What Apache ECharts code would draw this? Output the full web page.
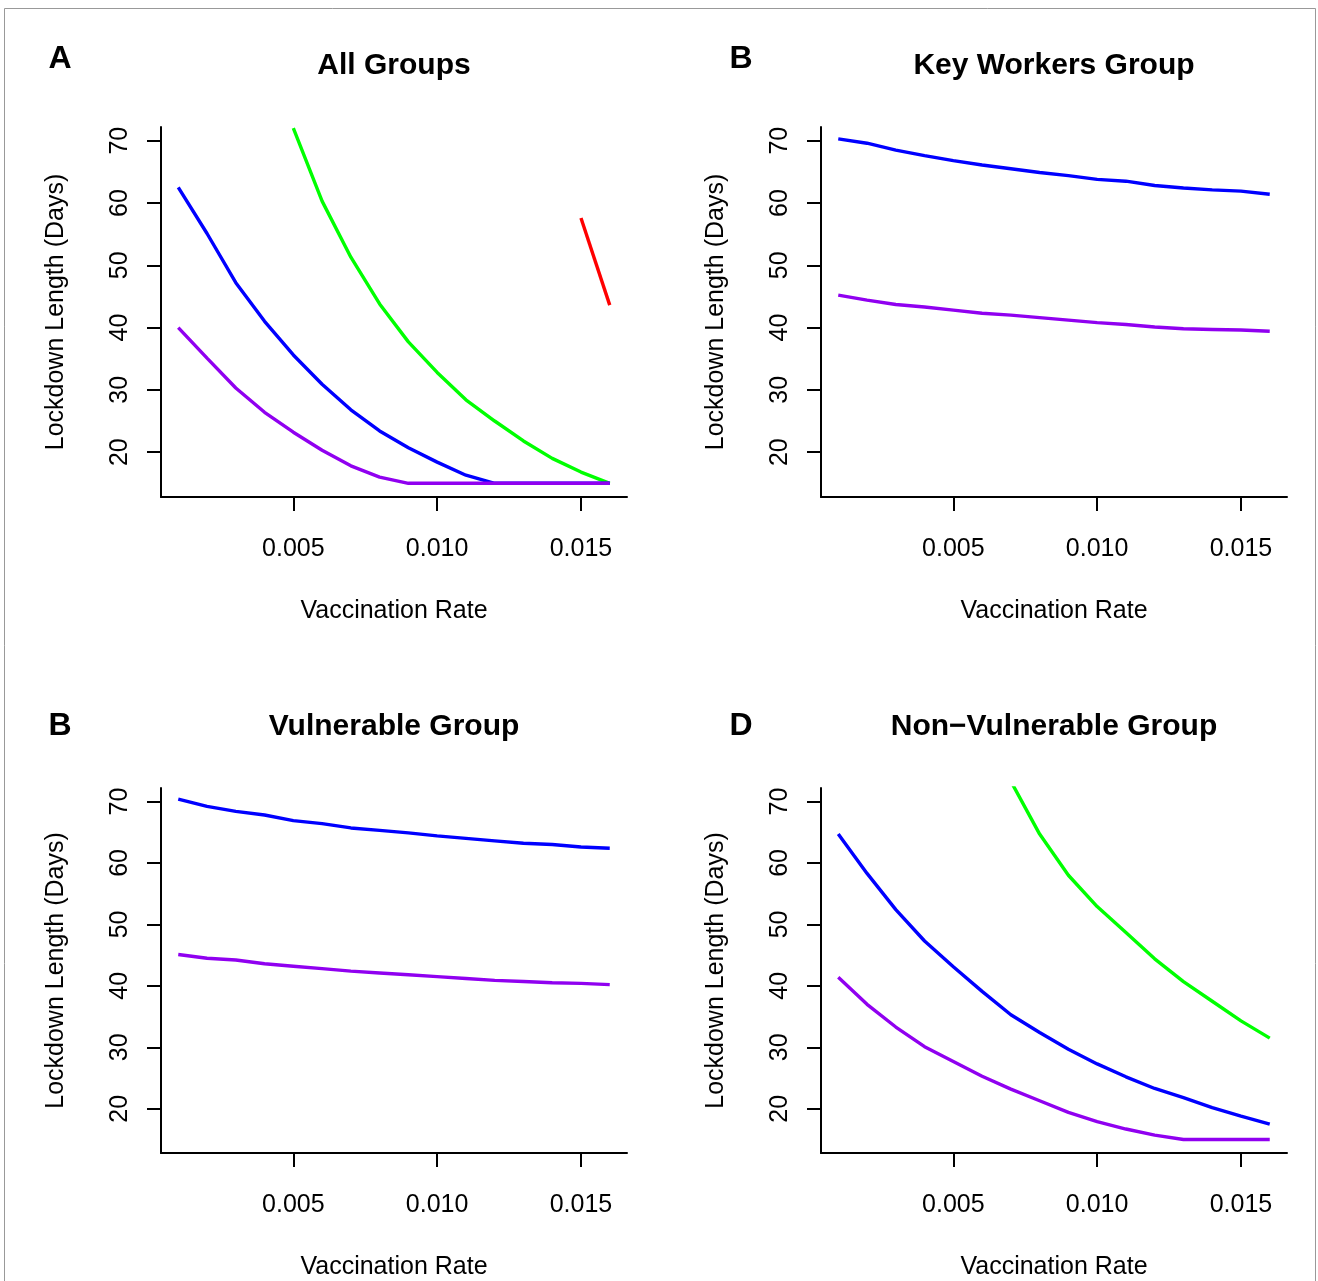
<!DOCTYPE html>
<html>
<head>
<meta charset="utf-8">
<title>Lockdown Length vs Vaccination Rate</title>
<script src="https://cdn.jsdelivr.net/npm/echarts@6/dist/echarts.min.js"></script>
<style>
  html, body { margin: 0; padding: 0; background: #fff; }
  #chart { width: 1318px; height: 1281px; }
</style>
</head>
<body>
<div id="chart"></div>
<script>
// vaccination rates on the x axis
const rates = [0.001, 0.002, 0.003, 0.004, 0.005, 0.006, 0.007, 0.008,
  0.009, 0.010, 0.011, 0.012, 0.013, 0.014, 0.015, 0.016];
const xTicks = [0.005, 0.010, 0.015];
const yTicks = [20, 30, 40, 50, 60, 70];

const panelTitles = ['All Groups', 'Key Workers Group', 'Vulnerable Group', 'Non\u2212Vulnerable Group'];
const panelLetters = ['A', 'B', 'B', 'D'];

// A: all groups
const allRed = [null, null, null, null, null, null, null, null, null, null, null, null, null, null, 57.6, 43.6];
const allGreen = [null, null, null, null, 72.0, 60.3, 51.3, 43.8, 37.7, 32.8, 28.4, 25.0, 21.8, 19.0, 16.8, 15.0];
const allBlue = [62.5, 55.1, 47.2, 41.0, 35.6, 30.9, 26.8, 23.4, 20.7, 18.4, 16.3, 15.0, 15.0, 15.0, 15.0, 15.0];
const allPurple = [40.0, 35.1, 30.3, 26.4, 23.2, 20.3, 17.8, 16.0, 15.0, 15.0, 15.0, 15.0, 15.0, 15.0, 15.0, 15.0];

// B: key workers
const keyBlue = [70.3, 69.6, 68.5, 67.6, 66.8, 66.1, 65.5, 64.9, 64.4, 63.8, 63.5, 62.8, 62.4, 62.1, 61.9, 61.4];
const keyPurple = [45.2, 44.4, 43.7, 43.3, 42.8, 42.3, 42.0, 41.6, 41.2, 40.8, 40.5, 40.1, 39.8, 39.7, 39.6, 39.4];

// C: vulnerable
const vulnBlue = [70.4, 69.2, 68.4, 67.8, 66.9, 66.4, 65.7, 65.3, 64.9, 64.4, 64.0, 63.6, 63.2, 63.0, 62.6, 62.4];
const vulnPurple = [45.1, 44.5, 44.2, 43.6, 43.2, 42.8, 42.4, 42.1, 41.8, 41.5, 41.2, 40.9, 40.7, 40.5, 40.4, 40.2];

// D: non-vulnerable
const nonGreen = [null, null, null, null, null, null, 73.3, 64.7, 58.0, 52.9, 48.7, 44.4, 40.7, 37.5, 34.3, 31.5];
const nonBlue = [64.7, 58.3, 52.4, 47.3, 43.1, 39.1, 35.3, 32.4, 29.7, 27.3, 25.2, 23.3, 21.8, 20.2, 18.8, 17.5];
const nonPurple = [41.4, 37.0, 33.3, 30.1, 27.7, 25.3, 23.2, 21.3, 19.4, 17.9, 16.7, 15.7, 15.0, 15.0, 15.0, 15.0];

const panelSeries = [
  [['#ff0000', allRed], ['#00ff00', allGreen], ['#0000ff', allBlue], ['#9000f0', allPurple]],
  [['#0000ff', keyBlue], ['#9000f0', keyPurple]],
  [['#0000ff', vulnBlue], ['#9000f0', vulnPurple]],
  [['#00ff00', nonGreen], ['#0000ff', nonBlue], ['#9000f0', nonPurple]]
];

const FONT = '"Liberation Sans", Arial, Helvetica, sans-serif';
const panelPos = [[161, 127], [821, 127], [161, 788], [821, 788]];
const plotW = 466;
const plotH = 370;

const chart = echarts.init(document.getElementById('chart'));

const grid = [];
const xAxis = [];
const yAxis = [];
const series = [];
const title = [];

panelPos.forEach(function (p, i) {
  const rightCol = i % 2 === 1;
  const bottomRow = i > 1;
  grid.push({ left: p[0], top: p[1], width: plotW, height: plotH });
  xAxis.push({
    type: 'value',
    gridIndex: i,
    min: 0.0004,
    max: 0.0166,
    name: 'Vaccination Rate',
    nameLocation: 'middle',
    nameGap: 102,
    nameTextStyle: { fontFamily: FONT, fontSize: 25, color: '#000', verticalAlign: 'top' },
    axisLine: { show: true, lineStyle: { color: '#000', width: 2 } },
    axisTick: { show: true, length: 14, customValues: xTicks, lineStyle: { color: '#000', width: 2 } },
    axisLabel: {
      customValues: xTicks,
      margin: 40,
      fontFamily: FONT,
      fontSize: 25,
      color: '#000',
      formatter: function (v) { return v.toFixed(3); }
    },
    splitLine: { show: false }
  });
  yAxis.push({
    type: 'value',
    gridIndex: i,
    min: 12.8,
    max: 72.2,
    name: 'Lockdown Length (Days)',
    nameLocation: 'middle',
    nameGap: 92,
    nameRotate: 90,
    nameTextStyle: { fontFamily: FONT, fontSize: 25, color: '#000' },
    axisLine: { show: true, lineStyle: { color: '#000', width: 2 } },
    axisTick: { show: true, length: 14, customValues: yTicks, lineStyle: { color: '#000', width: 2 } },
    axisLabel: {
      customValues: yTicks,
      rotate: 90,
      margin: 28,
      fontFamily: FONT,
      fontSize: 25,
      color: '#000'
    },
    splitLine: { show: false }
  });
  panelSeries[i].forEach(function (s) {
    series.push({
      type: 'line',
      xAxisIndex: i,
      yAxisIndex: i,
      data: rates.map(function (r, k) { return [r, s[1][k]]; }),
      showSymbol: false,
      clip: true,
      silent: true,
      lineStyle: { color: s[0], width: 3.4 },
      itemStyle: { color: s[0] }
    });
  });
  title.push({
    text: panelTitles[i],
    left: p[0] + plotW / 2,
    top: p[1] - 76,
    textAlign: 'center',
    padding: 0,
    textStyle: { fontFamily: FONT, fontSize: 30, fontWeight: 'bold', color: '#000' }
  });
  title.push({
    text: panelLetters[i],
    left: p[0] - (rightCol ? 80 : 101),
    top: p[1] - (bottomRow ? 78 : 84),
    textAlign: 'center',
    padding: 0,
    textStyle: { fontFamily: FONT, fontSize: 32, fontWeight: 'bold', color: '#000' }
  });
});

chart.setOption({
  backgroundColor: '#fff',
  animation: false,
  title: title,
  grid: grid,
  xAxis: xAxis,
  yAxis: yAxis,
  series: series,
  graphic: [{
    type: 'rect',
    shape: { x: 4.5, y: 8.5, width: 1311, height: 1300 },
    style: { fill: 'none', stroke: '#999', lineWidth: 1 },
    silent: true
  }]
});
</script>
</body>
</html>
